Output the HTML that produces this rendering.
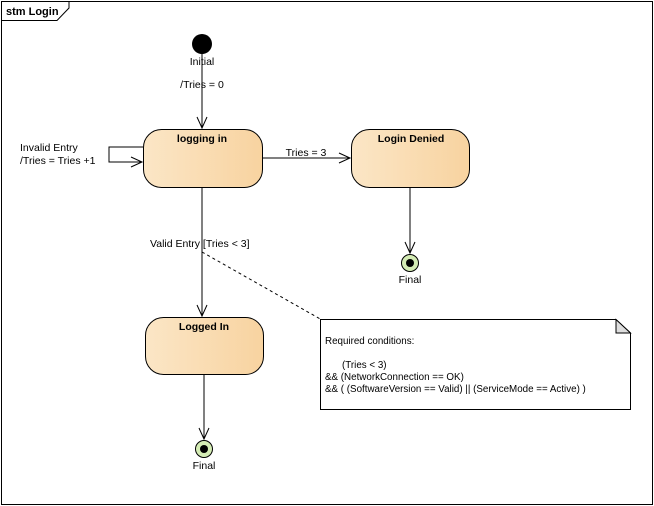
<!DOCTYPE html>
<html><head><style>
body{margin:0;background:#fff}
svg{display:block;font-family:"Liberation Sans",sans-serif}
</style></head><body>
<svg width="654" height="506" viewBox="0 0 654 506">
<defs>
<linearGradient id="g" x1="0" y1="0" x2="1" y2="0">
<stop offset="0" stop-color="#fbe6c6"/><stop offset="1" stop-color="#f8d3a0"/>
</linearGradient>
</defs>
<rect x="1.5" y="1.5" width="651" height="503" fill="#fff" stroke="#000"/>
<path d="M1.5 20.5 H57 L69 8 V1.5" fill="none" stroke="#000"/>
<text x="6" y="15" font-size="11" font-weight="bold" fill="#000">stm Login</text>

<g stroke="#000" fill="none" stroke-width="1">
<line x1="202" y1="44" x2="202" y2="128"/>
<path d="M197 117 L202 128 L207 117"/>
<path d="M143 147 H109 V162 H142"/>
<path d="M131 157 L142 162 L131 167"/>
<line x1="263" y1="158" x2="350" y2="158"/>
<path d="M339 153 L350 158 L339 163"/>
<line x1="202" y1="188" x2="202" y2="316"/>
<path d="M197 305 L202 316 L207 305"/>
<line x1="410" y1="188" x2="410" y2="253"/>
<path d="M405 242 L410 253 L415 242"/>
<line x1="204" y1="375" x2="204" y2="439"/>
<path d="M199 428 L204 439 L209 428"/>
<line x1="202" y1="252" x2="322" y2="320" stroke-dasharray="3,3"/>
</g>
<circle cx="202" cy="44" r="10" fill="#000"/>
<text x="202" y="65" font-size="10.5" text-anchor="middle">Initial</text>
<text x="202" y="88" font-size="10.5" text-anchor="middle">/Tries = 0</text>
<text x="20" y="151" font-size="10.5">Invalid Entry</text>
<text x="20" y="164" font-size="10.5">/Tries = Tries +1</text>
<text x="306" y="156" font-size="10.5" text-anchor="middle">Tries = 3</text>
<text x="150" y="247" font-size="10.5">Valid Entry [Tries &lt; 3]</text>

<rect x="143.5" y="129.5" width="119" height="58" rx="18" fill="url(#g)" stroke="#000"/>
<text x="202" y="142" font-size="10.5" font-weight="bold" text-anchor="middle">logging in</text>
<rect x="351.5" y="129.5" width="118" height="58" rx="18" fill="url(#g)" stroke="#000"/>
<text x="411" y="142" font-size="10.5" font-weight="bold" text-anchor="middle">Login Denied</text>
<rect x="145.5" y="317.5" width="118" height="57" rx="18" fill="url(#g)" stroke="#000"/>
<text x="204" y="330" font-size="10.5" font-weight="bold" text-anchor="middle">Logged In</text>

<circle cx="410" cy="263" r="8.5" fill="#d4ecb4" stroke="#000"/>
<circle cx="410" cy="263" r="4" fill="#000"/>
<text x="410" y="283" font-size="10.5" text-anchor="middle">Final</text>
<circle cx="204" cy="449" r="8.5" fill="#d4ecb4" stroke="#000"/>
<circle cx="204" cy="449" r="4" fill="#000"/>
<text x="204" y="469" font-size="10.5" text-anchor="middle">Final</text>

<path d="M320.5 319.5 H616 L630.5 333 V409.5 H320.5 Z" fill="#fff" stroke="#000"/>
<path d="M616 319.5 V333 H630.5 Z" fill="#ddd" stroke="#000"/>
<g font-size="9.8">
<text x="325" y="344">Required conditions:</text>
<text x="342" y="368">(Tries &lt; 3)</text>
<text x="325" y="380">&amp;&amp; (NetworkConnection == OK)</text>
<text x="325" y="392">&amp;&amp; ( (SoftwareVersion == Valid) || (ServiceMode == Active) )</text>
</g>
</svg>
</body></html>
